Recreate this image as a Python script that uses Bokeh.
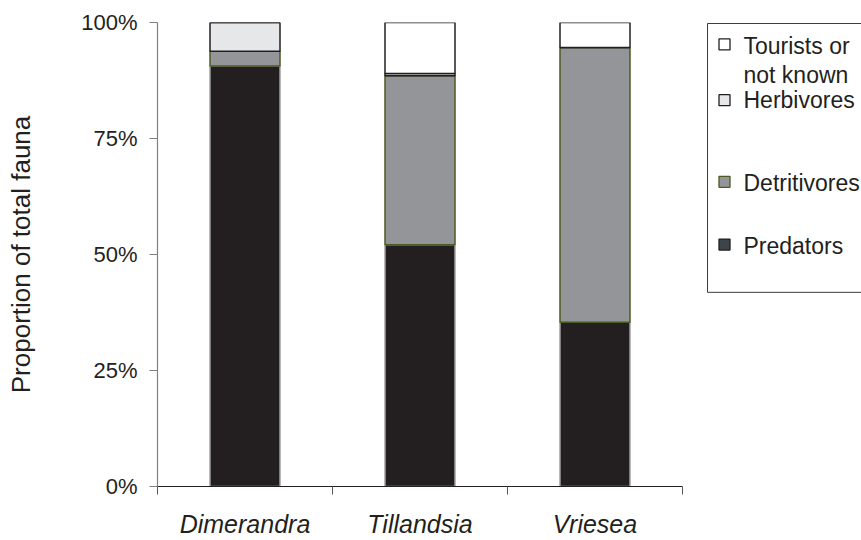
from bokeh.plotting import figure
from bokeh.layouts import row
from bokeh.models import Range1d, FixedTicker
from bokeh.core.properties import value
from bokeh.embed import file_html
from bokeh.resources import INLINE

# ---- data ----
categories = ["Dimerandra", "Tillandsia", "Vriesea"]
predators = [90.6, 52.1, 35.4]
detritivores = [3.2, 36.4, 59.2]
herbivores = [6.2, 0.5, 0.0]
tourists = [0.0, 11.0, 5.4]
series = ["Predators", "Detritivores", "Herbivores", "Tourists or\nnot known"]
y_ticks = [0, 25, 50, 75, 100]
y_tick_labels = ["0%", "25%", "50%", "75%", "100%"]

FONT = "Liberation Sans"
TXT = "#231f20"

fill_colors = ["#231f20", "#939598", "#e6e7e8", "#ffffff"]
line_colors = ["#a0a0a0", "#4b5a23", "#231f20", "#231f20"]
legend_fill = ["#3d4549", "#939598", "#e6e7e8", "#ffffff"]
legend_line = ["#231f20", "#4b5a23", "#231f20", "#231f20"]

n = len(categories)
centers = [i + 0.5 for i in range(n)]
bounds = list(range(n + 1))

data = dict(x=centers, Predators=predators, Detritivores=detritivores,
            Herbivores=herbivores, Tourists=tourists)
keys = ["Predators", "Detritivores", "Herbivores", "Tourists"]

# layout (page pixels)
H = 540
BL, BT, FW, FH = 157, 22, 525, 466
BB = H - BT - FH
W1 = BL + FW + 11
W2 = 861 - W1

yr = Range1d(0, 100)
p = figure(width=W1, height=H, output_backend="svg", toolbar_location=None,
           x_range=Range1d(0, n), y_range=yr,
           min_border_left=BL, min_border_right=W1 - BL - FW,
           min_border_top=BT, min_border_bottom=BB)
p.outline_line_color = None
p.grid.visible = False
p.background_fill_color = "white"

p.vbar_stack(keys, x="x", width=0.4, source=data,
             fill_color=fill_colors, line_color=line_colors, line_width=1.5)

# x axis
xa = p.xaxis[0]
xa.ticker = FixedTicker(ticks=centers, minor_ticks=bounds)
xa.major_label_overrides = {c: lab for c, lab in zip(centers, categories)}
xa.major_tick_line_color = None
xa.minor_tick_line_color = "#555555"
xa.minor_tick_out = 8
xa.minor_tick_in = 0
xa.axis_line_color = TXT
xa.axis_line_width = 1.2
xa.major_label_text_font = FONT
xa.major_label_text_font_size = "25px"
xa.major_label_text_font_style = "italic"
xa.major_label_text_color = TXT
xa.major_label_standoff = 15

# y axis
ya = p.yaxis[0]
ya.ticker = FixedTicker(ticks=y_ticks)
ya.major_label_overrides = {t: lab for t, lab in zip(y_ticks, y_tick_labels)}
ya.minor_tick_line_color = None
ya.major_tick_out = 8
ya.major_tick_in = 0
ya.major_tick_line_color = "#808080"
ya.axis_line_color = "#808080"
ya.axis_line_width = 1.2
ya.major_label_text_font = FONT
ya.major_label_text_font_size = "22px"
ya.major_label_text_color = TXT
ya.major_label_standoff = 12
ya.axis_label = "Proportion of total fauna"
ya.axis_label_text_font = FONT
ya.axis_label_text_font_size = "26px"
ya.axis_label_text_font_style = "normal"
ya.axis_label_text_color = TXT
ya.axis_label_standoff = 42

# ---- legend panel: x in page pixels, y shares the main value scale ----
def dy(py):
    return (BT + FH - py) / FH * 100


q = figure(width=W2, height=H, output_backend="svg", toolbar_location=None,
           x_range=Range1d(W1, W1 + W2), y_range=yr,
           x_axis_location=None, y_axis_location=None,
           min_border_left=0, min_border_right=0,
           min_border_top=BT, min_border_bottom=BB)
q.outline_line_color = None
q.grid.visible = False

q.quad(left=[707], right=[960], top=[dy(23)], bottom=[dy(293)],
       fill_color=None, line_color="#3c3c3c", line_width=1)

order = [3, 2, 1, 0]  # top to bottom: tourists, herbivores, detritivores, predators
sq_y = [44, 100, 182, 245]
base_y = [46, 100, 183, 246]
q.scatter(x=[724] * 4, y=[dy(v) for v in sq_y], marker="square", size=11,
          fill_color=[legend_fill[i] for i in order],
          line_color=[legend_line[i] for i in order], line_width=1.3)

tx, ty = [], []
for k, i in enumerate(order):
    for j, line in enumerate(series[i].split("\n")):
        tx.append(line)
        ty.append(dy(base_y[k] + 29 * j))
q.text(x=[743] * len(tx), y=ty, text=tx, text_font=value(FONT),
       text_font_size="23px", text_color=TXT, text_baseline="alphabetic",
       text_align="left")

layout = row(p, q)
open("out.html", "w").write(file_html(layout, INLINE))
